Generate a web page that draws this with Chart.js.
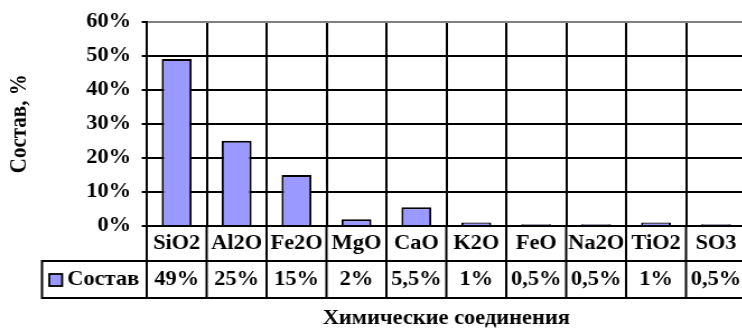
<!DOCTYPE html>
<html lang="ru">
<head>
<meta charset="utf-8">
<title>Состав</title>
<script src="https://cdn.jsdelivr.net/npm/chart.js@4/dist/chart.umd.min.js"></script>
<style>
    body { margin: 0; width: 742px; height: 329px; overflow: hidden; background: #fff; }
    #envoltura { transform: scaleX(1.12); transform-origin: 0 0; width: 666px; }
</style>
</head>
<body>
<div id="envoltura">
    <canvas id="grafico" width="666" height="329"></canvas>
</div>
<script>
const categorias = ['SiO2', 'Al2O', 'Fe2O', 'MgO', 'CaO', 'K2O', 'FeO', 'Na2O', 'TiO2', 'SO3'];
const valores = [49, 25, 15, 2, 5.5, 1, 0.5, 0.5, 1, 0.5];
const nombreSerie = 'Состав';
const ejeYMax = 60;
const ejeYPaso = 10;

const fuente = '"Liberation Serif", "Times New Roman", serif';
const colorBarra = '#9999FF';

function formato(v) {
    return String(v).replace('.', ',') + '%';
}

// tabla de datos debajo del grafico
const tablaDatos = {
    id: 'tablaDatos',
    afterDraw(chart) {
        const ctx = chart.ctx;
        const area = chart.chartArea;
        const x = chart.scales.x;
        const n = categorias.length;
        const ancho = (area.right - area.left) / n;
        const fila1 = area.bottom + 35;
        const fila2 = area.bottom + 72;
        const izq = 37.5;

        ctx.save();
        ctx.strokeStyle = '#000';
        ctx.lineWidth = 2;
        ctx.beginPath();
        ctx.moveTo(izq, fila1); ctx.lineTo(area.right + 2, fila1);
        ctx.moveTo(izq, fila2); ctx.lineTo(area.right + 2, fila2);
        ctx.moveTo(izq, fila1 - 1); ctx.lineTo(izq, fila2 + 1);
        for (let i = 0; i <= n; i++) {
            const xx = area.left + i * ancho;
            ctx.moveTo(xx, area.bottom); ctx.lineTo(xx, fila2 + 1);
        }
        ctx.stroke();

        ctx.fillStyle = '#000';
        ctx.font = 'bold 20px ' + fuente;
        ctx.textAlign = 'center';
        ctx.textBaseline = 'middle';
        categorias.forEach((c, i) => {
            const cx = x.getPixelForValue(i);
            ctx.fillText(c, cx, area.bottom + 18);
            ctx.fillText(formato(valores[i]), cx, fila1 + 19);
        });

        // leyenda
        ctx.fillStyle = colorBarra;
        ctx.fillRect(44, fila1 + 13, 11.5, 12);
        ctx.lineWidth = 1.8;
        ctx.strokeRect(44, fila1 + 13, 11.5, 12);
        ctx.fillStyle = '#000';
        ctx.textAlign = 'left';
        ctx.fillText(nombreSerie, 60, fila1 + 19);
        ctx.restore();
    }
};

const ctx = document.getElementById('grafico').getContext('2d');
new Chart(ctx, {
    type: 'bar',
    data: {
        labels: categorias,
        datasets: [{
            label: nombreSerie,
            data: valores,
            backgroundColor: colorBarra,
            borderColor: '#000',
            borderWidth: 2,
            barPercentage: 0.5,
            categoryPercentage: 1
        }]
    },
    options: {
        responsive: false,
        animation: false,
        devicePixelRatio: 1,
        layout: { padding: { top: 20, left: 0, right: 0, bottom: 0 } },
        plugins: {
            legend: { display: false },
            tooltip: { enabled: false }
        },
        scales: {
            x: {
                ticks: { display: false },
                grid: { color: '#000', lineWidth: 2, drawTicks: false, offset: true },
                border: { color: '#000', width: 2 },
                title: {
                    display: true,
                    text: 'Химические соединения',
                    color: '#000',
                    font: { family: fuente, size: 20, weight: 'bold', lineHeight: 1 },
                    padding: { top: 0, bottom: 0 }
                },
                afterFit(scale) { scale.height = 103; }
            },
            y: {
                min: 0,
                max: ejeYMax,
                ticks: {
                    stepSize: ejeYPaso,
                    color: '#000',
                    padding: 9.5,
                    font: { family: fuente, size: 20, weight: 'bold' },
                    callback: v => v + '%'
                },
                grid: {
                    color: c => (c.tick && c.tick.value === ejeYMax ? '#808080' : '#000'),
                    lineWidth: 2,
                    tickLength: 4.5,
                    tickColor: '#000'
                },
                border: { color: '#000', width: 2 },
                title: {
                    display: true,
                    text: 'Состав, %',
                    color: '#000',
                    font: { family: fuente, size: 21, weight: 'bold', lineHeight: 1.2 },
                    padding: { top: 5, bottom: 0 }
                },
                afterFit(scale) { scale.width = 131; }
            }
        }
    },
    plugins: [tablaDatos]
});
</script>
</body>
</html>
